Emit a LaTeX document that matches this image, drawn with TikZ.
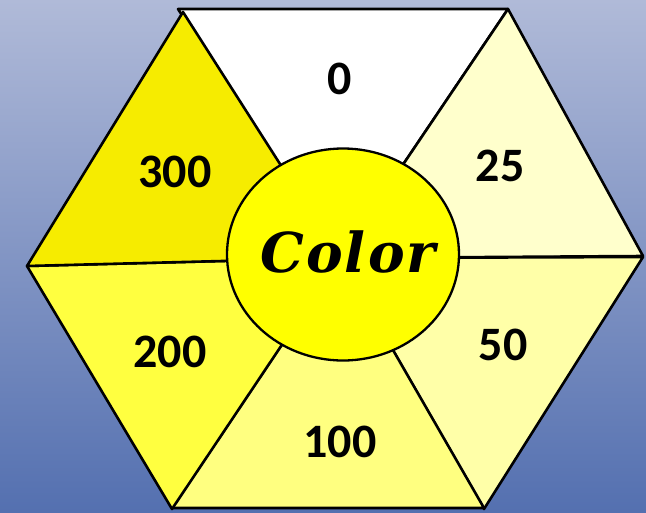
\documentclass[tikz,border=0pt]{standalone}
\usepackage{fontspec}
\setmainfont{Carlito}
\newfontfamily\colorfont[LetterSpace=4]{DejaVu Serif}
\definecolor{bgtop}{HTML}{B0BAD8}
\definecolor{bgbot}{HTML}{5470B0}
\definecolor{sZero}{HTML}{FFFFFF}
\definecolor{sTwentyFive}{HTML}{FFFFCC}
\definecolor{sFifty}{HTML}{FFFFA8}
\definecolor{sHundred}{HTML}{FFFF80}
\definecolor{sTwoHundred}{HTML}{FFFF40}
\definecolor{sThreeHundred}{HTML}{F6EC00}
\definecolor{hub}{HTML}{FFFF00}
\tikzset{
  sector/.style={draw=black, line width=2.6pt, line join=round},
  num/.style={font=\bfseries\fontsize{48}{48}\selectfont, text=black, inner sep=0pt},
}
\begin{document}
\begin{tikzpicture}[x=1pt,y=-1pt]
\useasboundingbox (0,0) rectangle (646,512);
\shade[top color=bgtop, bottom color=bgbot] (0,0) rectangle (646,512);
\coordinate (c) at (340,258);
\filldraw[sector, fill=sZero] (178,9) -- (508,9) -- (c) -- cycle;
\filldraw[sector, fill=sTwentyFive] (508,9) -- (643,256) -- (c) -- cycle;
\filldraw[sector, fill=sFifty] (643,257) -- (484,509) -- (c) -- cycle;
\filldraw[sector, fill=sHundred] (484,508) -- (172,508) -- (c) -- cycle;
\filldraw[sector, fill=sTwoHundred] (172,509) -- (27,266) -- (c) -- cycle;
\filldraw[sector, fill=sThreeHundred] (27,266) -- (183,12) -- (c) -- cycle;
\filldraw[draw=black, line width=2.3pt, fill=hub] (343,254.5) ellipse [x radius=116, y radius=106];
\node[num] (n0) at (340,79) {0};
\node[num] (n25) at (500,166) {25};
\node[num] (n300) at (175,172) {300};
\node[num] (n50) at (503,345) {50};
\node[num] (n200) at (170,352) {200};
\node[num] (n100) at (340,442) {100};
\node[inner sep=0pt, font=\colorfont\bfseries\itshape\fontsize{55}{55}\selectfont] (col) at (348,252) {Color};
\end{tikzpicture}
\end{document}
